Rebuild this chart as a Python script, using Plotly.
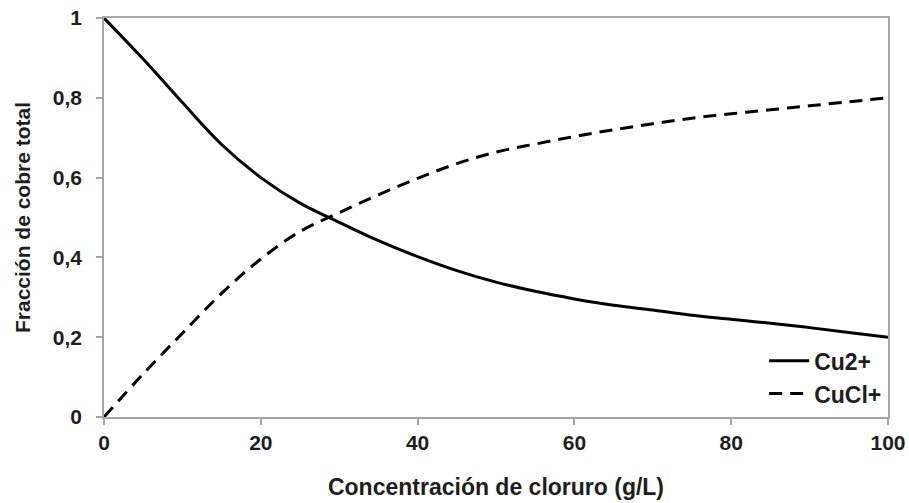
import plotly.graph_objects as go

concentracion = [0, 5, 10, 15, 20, 25, 30, 35, 40, 45, 50, 55, 60, 65, 70, 75, 80, 85, 90, 95, 100]
cu2 = [1.0, 0.897, 0.788, 0.683, 0.600, 0.536, 0.488, 0.442, 0.402, 0.367, 0.338, 0.315, 0.296,
       0.280, 0.268, 0.255, 0.245, 0.235, 0.224, 0.212, 0.2]
cucl = [0.0, 0.108, 0.21, 0.31, 0.396, 0.465, 0.512, 0.557, 0.598, 0.635, 0.664, 0.684, 0.703,
        0.720, 0.735, 0.749, 0.760, 0.770, 0.780, 0.790, 0.80]
x_ticks = [0, 20, 40, 60, 80, 100]
y_ticks = [0, 0.2, 0.4, 0.6, 0.8, 1]
y_tick_labels = ["0", "0,2", "0,4", "0,6", "0,8", "1"]

FONT = "Liberation Sans, Arial, sans-serif"
TXT = "#1e1e1e"

fig = go.Figure()
fig.add_trace(go.Scatter(x=concentracion, y=cu2, mode="lines", name="<b>Cu2+</b>",
                         legendgroup="a",
                         line=dict(color="black", width=3, shape="spline", smoothing=1.0)))
fig.add_trace(go.Scatter(x=concentracion, y=cucl, mode="lines", name="<b>CuCl+</b>",
                         legendgroup="b",
                         line=dict(color="black", width=3, dash="13px,8px", shape="spline", smoothing=1.0)))

axis_common = dict(showline=True, linecolor="#a6a6a6", linewidth=1.5, mirror=True,
                   showgrid=False, zeroline=False, ticks="outside", ticklen=6,
                   tickcolor="#a6a6a6", tickwidth=1.5, automargin=False,
                   tickfont=dict(family=FONT, size=21, color=TXT))

fig.update_xaxes(range=[0, 100], tickvals=x_ticks, ticktext=[f"<b>{v}</b>" for v in x_ticks],
                 title=dict(text="<b>Concentración de cloruro (g/L)</b>",
                            font=dict(family=FONT, size=23, color=TXT), standoff=26),
                 ticklabelstandoff=0, **axis_common)
fig.update_yaxes(range=[0, 1], tickvals=y_ticks, ticktext=[f"<b>{t}</b>" for t in y_tick_labels],
                 title=dict(text="<b>Fracción de cobre total</b>",
                            font=dict(family=FONT, size=21, color=TXT), standoff=16),
                 ticklabelstandoff=10, **axis_common)

fig.update_layout(
    width=909, height=503,
    margin=dict(l=104, r=21, t=18, b=86),
    paper_bgcolor="white", plot_bgcolor="white",
    showlegend=True,
    legend=dict(x=0.842, y=0.195, xanchor="left", yanchor="top",
                bgcolor="rgba(0,0,0,0)", traceorder="grouped", tracegroupgap=0,
                font=dict(family=FONT, size=23, color=TXT), itemwidth=40),
)

fig.write_html("out.html")
